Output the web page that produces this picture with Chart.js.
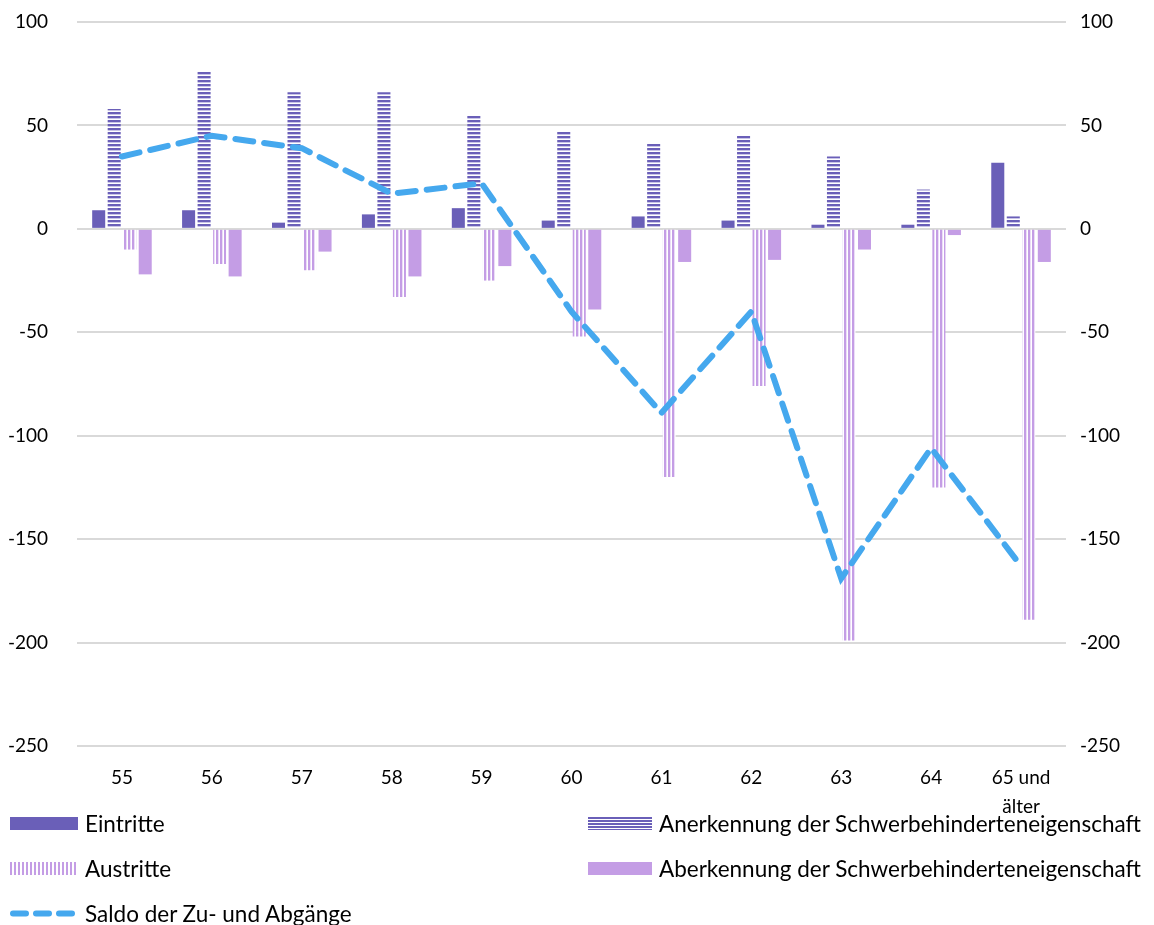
<!DOCTYPE html>
<html lang="de">
<head>
<meta charset="utf-8">
<script src="https://cdn.jsdelivr.net/npm/chart.js@4.4.1/dist/chart.umd.min.js"></script>
<style>
    body { margin: 0; background: #fff; font-family: Lato, sans-serif; }
    #wrap { position: relative; width: 1154px; height: 925px; }
    #legend { position: absolute; left: 0; top: 812px; width: 1154px; height: 113px; font-size: 22.5px; color: #000; }
    .item { position: absolute; display: flex; align-items: center; height: 24px; white-space: nowrap; }
    .sw { height: 13px; margin-right: 7px; }
</style>
</head>
<body>
<div id="wrap">
<canvas id="chart"></canvas>
<div id="legend">
    <div class="item" style="left:10px; top:-1px;">
        <div class="sw" style="width:68px; background:#6A5FB8;"></div>Eintritte
    </div>
    <div class="item" style="left:588px; top:-1px;">
        <div class="sw" style="width:64px; background:repeating-linear-gradient(to bottom, #6A5FB8 0 2px, #fff 2px 3px);"></div>Anerkennung der Schwerbehinderteneigenschaft
    </div>
    <div class="item" style="left:10px; top:44px;">
        <div class="sw" style="width:68px; background:repeating-linear-gradient(to right, #C49DE5 0 2px, #fff 2px 4px);"></div>Austritte
    </div>
    <div class="item" style="left:588px; top:44px;">
        <div class="sw" style="width:64px; background:#C49DE5;"></div>Aberkennung der Schwerbehinderteneigenschaft
    </div>
    <div class="item" style="left:10px; top:89px;">
        <svg width="68" height="13" style="margin-right:7px"><line x1="3" y1="6.5" x2="65" y2="6.5" stroke="#45A8EE" stroke-width="6" stroke-linecap="round" stroke-dasharray="13 10"/></svg>Saldo der Zu- und Abgänge
    </div>
</div>
</div>
<script>
// Altersgruppen
const labels = ['55', '56', '57', '58', '59', '60', '61', '62', '63', '64', ['65 und', 'älter']];

// Werte je Altersgruppe
const eintritte = [9, 9, 3, 7, 10, 4, 6, 4, 2, 2, 32];
const anerkennung = [58, 76, 66, 66, 55, 47, 41, 45, 35, 19, 6];
const austritte = [-10, -17, -20, -33, -25, -52, -120, -76, -199, -125, -189];
const aberkennung = [-22, -23, -11, -23, -18, -39, -16, -15, -10, -3, -16];
const saldo = [35, 45, 39, 17, 22, -40, -89, -40, -169, -106, -163];

const yMin = -250, yMax = 100, yStep = 50;

// Streifenmuster fuer die Balken
function makePattern(draw) {
    const c = document.createElement('canvas');
    c.width = 4;
    c.height = 4;
    const g = c.getContext('2d');
    g.fillStyle = '#fff';
    g.fillRect(0, 0, 4, 4);
    draw(g);
    return g.createPattern(c, 'repeat');
}

const horizStripes = makePattern(g => {
    g.fillStyle = '#6A5FB8';
    g.fillRect(0, 0, 4, 2);
    g.fillStyle = '#C9C4E8';
    g.fillRect(0, 2, 4, 1);
});

const vertStripes = makePattern(g => {
    g.fillStyle = '#C49DE5';
    g.fillRect(0, 0, 2, 4);
    g.fillStyle = '#EBDDF7';
    g.fillRect(2, 0, 1, 4);
});

const tickFont = { family: 'Lato, sans-serif', size: 19 };

const barOpts = {
    categoryPercentage: 0.69,
    barPercentage: 0.84,
    order: 1
};

// feste Breite der Achse, Abstand oben fuer die Zeichenflaeche
function fitVertical(width) {
    return s => {
        s.width = width;
        s.paddingTop = 22;
        s.paddingBottom = 12;
    };
}

const chart = new Chart(document.getElementById('chart'), {
    type: 'bar',
    data: {
        labels: labels,
        datasets: [
            { label: 'Saldo der Zu- und Abgänge', type: 'line', data: saldo, borderColor: '#45A8EE', borderWidth: 6, borderDash: [18, 11], borderCapStyle: 'round', pointRadius: 0, fill: false, tension: 0, order: 0 },
            { label: 'Eintritte', data: eintritte, backgroundColor: '#6A5FB8', ...barOpts },
            { label: 'Anerkennung der Schwerbehinderteneigenschaft', data: anerkennung, backgroundColor: horizStripes, ...barOpts },
            { label: 'Austritte', data: austritte, backgroundColor: vertStripes, ...barOpts },
            { label: 'Aberkennung der Schwerbehinderteneigenschaft', data: aberkennung, backgroundColor: '#C49DE5', ...barOpts }
        ]
    },
    options: {
        responsive: true,
        maintainAspectRatio: false,
        animation: false,
        layout: { padding: 0 },
        plugins: {
            legend: { display: false },
            tooltip: { enabled: false }
        },
        scales: {
            x: {
                grid: { display: false },
                border: { display: false },
                ticks: { font: { ...tickFont, lineHeight: 1.5 }, color: '#000', padding: 10, maxRotation: 0, autoSkip: false },
                afterFit: s => { s.height = 179; }
            },
            y: {
                position: 'left',
                min: yMin,
                max: yMax,
                grid: { color: '#D9D9D9', lineWidth: 2, drawTicks: false },
                border: { display: false },
                ticks: { stepSize: yStep, font: tickFont, color: '#000', padding: 29 },
                afterFit: fitVertical(77)
            },
            y2: {
                position: 'right',
                min: yMin,
                max: yMax,
                grid: { drawOnChartArea: false, drawTicks: false },
                border: { display: false },
                ticks: { stepSize: yStep, font: tickFont, color: '#000', padding: 14 },
                afterFit: fitVertical(88)
            }
        }
    }
});
</script>
</body>
</html>
